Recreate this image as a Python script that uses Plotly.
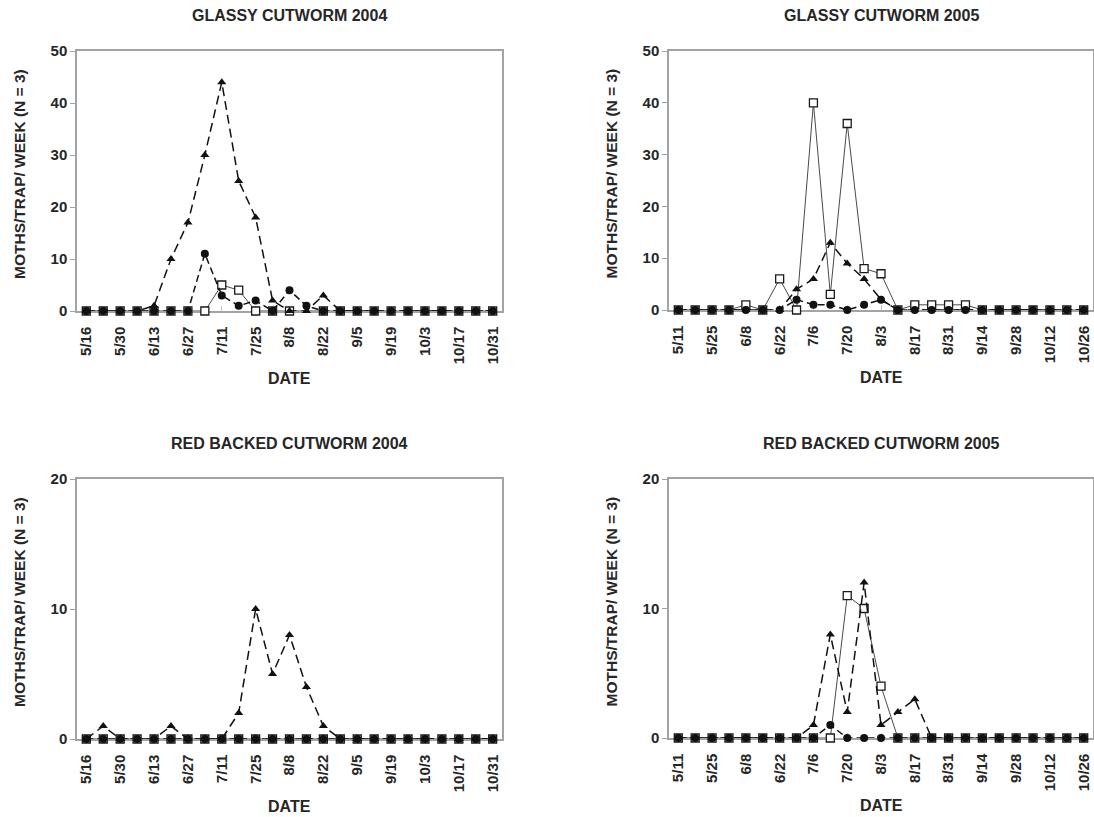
import plotly.graph_objects as go

# ---------------- data ----------------
weeks_2004 = ["5/16", "5/23", "5/30", "6/6", "6/13", "6/20", "6/27", "7/4", "7/11", "7/18",
              "7/25", "8/1", "8/8", "8/15", "8/22", "8/29", "9/5", "9/12", "9/19", "9/26",
              "10/3", "10/10", "10/17", "10/24", "10/31"]
weeks_2005 = ["5/11", "5/18", "5/25", "6/1", "6/8", "6/15", "6/22", "6/29", "7/6", "7/13",
              "7/20", "7/27", "8/3", "8/10", "8/17", "8/24", "8/31", "9/7", "9/14", "9/21",
              "9/28", "10/5", "10/12", "10/19", "10/26"]
ticks_2004 = weeks_2004[::2]
ticks_2005 = weeks_2005[::2]

# Glassy cutworm 2004
gc04_square = [0, 0, 0, 0, 0, 0, 0, 0, 5, 4, 0, 0, 0, None, 0, 0, 0, 0, 0, 0, 0, 0, 0, 0, 0]
gc04_circle = [0, 0, 0, 0, 0, 0, 0, 11, 3, 1, 2, 0, 4, 1, 0, 0, 0, 0, 0, 0, 0, 0, 0, 0, 0]
gc04_triangle = [0, 0, 0, 0, 1, 10, 17, 30, 44, 25, 18, 2, 0, 0, 3, 0, 0, 0, 0, 0, 0, 0, 0, 0, 0]

# Glassy cutworm 2005
gc05_square = [0, 0, 0, 0, 1, 0, 6, 0, 40, 3, 36, 8, 7, 0, 1, 1, 1, 1, 0, 0, 0, 0, 0, 0, 0]
gc05_circle = [0, 0, 0, 0, 0, 0, 0, 2, 1, 1, 0, 1, 2, 0, 0, 0, 0, 0, 0, 0, 0, 0, 0, 0, 0]
gc05_triangle = [0, 0, 0, 0, 0, 0, 0, 4, 6, 13, 9, 6, 2, 0, 0, 0, 0, 0, 0, 0, 0, 0, 0, 0, 0]

# Red backed cutworm 2004
rb04_square = [0, 0, 0, 0, 0, 0, 0, 0, 0, 0, 0, 0, 0, 0, 0, 0, 0, 0, 0, 0, 0, 0, 0, 0, 0]
rb04_circle = [0, 0, 0, 0, 0, 0, 0, 0, 0, 0, 0, 0, 0, 0, 0, 0, 0, 0, 0, 0, 0, 0, 0, 0, 0]
rb04_triangle = [0, 1, 0, 0, 0, 1, 0, 0, 0, 2, 10, 5, 8, 4, 1, 0, 0, 0, 0, 0, 0, 0, 0, 0, 0]

# Red backed cutworm 2005
rb05_square = [0, 0, 0, 0, 0, 0, 0, 0, 0, 0, 11, 10, 4, 0, 0, 0, 0, 0, 0, 0, 0, 0, 0, 0, 0]
rb05_circle = [0, 0, 0, 0, 0, 0, 0, 0, 0, 1, 0, 0, 0, 0, 0, 0, 0, 0, 0, 0, 0, 0, 0, 0, 0]
rb05_triangle = [0, 0, 0, 0, 0, 0, 0, 0, 1, 8, 2, 12, 1, 2, 3, 0, 0, 0, 0, 0, 0, 0, 0, 0, 0]

titles = ["GLASSY CUTWORM 2004", "GLASSY CUTWORM 2005",
          "RED BACKED CUTWORM 2004", "RED BACKED CUTWORM 2005"]
y_title = "MOTHS/TRAP/ WEEK (N = 3)"
x_title = "DATE"
y_ticks_top = [0, 10, 20, 30, 40, 50]
y_ticks_bottom = [0, 10, 20]

# ---------------- layout geometry ----------------
W, H = 1094, 817
TXT = "#262626"
FRAME = "#a3a3a3"
FONT = "Liberation Sans, Arial, sans-serif"

panels = [
    dict(x=weeks_2004, ticks=ticks_2004, sq=gc04_square, ci=gc04_circle, tr=gc04_triangle,
         px=(77, 502), py=(51, 311), yt=y_ticks_top),
    dict(x=weeks_2005, ticks=ticks_2005, sq=gc05_square, ci=gc05_circle, tr=gc05_triangle,
         px=(669, 1093), py=(51, 310), yt=y_ticks_top),
    dict(x=weeks_2004, ticks=ticks_2004, sq=rb04_square, ci=rb04_circle, tr=rb04_triangle,
         px=(77, 502), py=(479, 739), yt=y_ticks_bottom),
    dict(x=weeks_2005, ticks=ticks_2005, sq=rb05_square, ci=rb05_circle, tr=rb05_triangle,
         px=(669, 1093), py=(479, 738), yt=y_ticks_bottom),
]

fig = go.Figure()
annotations = []
for i, p in enumerate(panels):
    n = "" if i == 0 else str(i + 1)
    xa, ya = "x" + n, "y" + n
    fig.add_trace(go.Scatter(
        x=p["x"], y=p["sq"], xaxis=xa, yaxis=ya, mode="lines+markers", connectgaps=True,
        line=dict(color="#4a4a4a", width=1),
        marker=dict(symbol="square", size=8, color="white", line=dict(color="#1a1a1a", width=1.3)),
        cliponaxis=False, showlegend=False))
    fig.add_trace(go.Scatter(
        x=p["x"], y=p["ci"], xaxis=xa, yaxis=ya, mode="lines+markers",
        line=dict(color="#111111", width=1.5, dash="7px,4px"),
        marker=dict(symbol="circle", size=8, color="#111111"),
        cliponaxis=False, showlegend=False))
    fig.add_trace(go.Scatter(
        x=p["x"], y=p["tr"], xaxis=xa, yaxis=ya, mode="lines+markers",
        line=dict(color="#111111", width=1.5, dash="9px,5px"),
        marker=dict(symbol="triangle-up", size=8, color="#111111"),
        cliponaxis=False, showlegend=False))

    x0, x1 = p["px"]
    y0, y1 = p["py"]
    fig.layout["xaxis" + n] = dict(
        domain=[x0 / W, x1 / W], anchor=ya, type="category",
        categoryorder="array", categoryarray=p["x"],
        range=[-0.55, len(p["x"]) - 0.45],
        tickmode="array", tickvals=p["ticks"], ticktext=p["ticks"],
        tickangle=-90, ticks="inside", ticklen=5, tickcolor="#c4c4c4",
        ticklabelstandoff=8, ticklabeloverflow="allow",
        tickfont=dict(family=FONT, size=15, color=TXT, weight="bold"),
        showline=True, mirror=True, linecolor=FRAME, linewidth=1.5, layer="below traces",
        showgrid=False, zeroline=False, fixedrange=True, automargin=False)
    fig.layout["yaxis" + n] = dict(
        domain=[1 - y1 / H, 1 - y0 / H], anchor=xa,
        range=[0, p["yt"][-1]], tickmode="array", tickvals=p["yt"],
        ticks="outside", ticklen=5, tickcolor=FRAME,
        tickfont=dict(family=FONT, size=15, color=TXT, weight="bold"),
        showline=True, mirror=True, linecolor=FRAME, linewidth=1.5, layer="below traces",
        showgrid=False, zeroline=False, fixedrange=True, automargin=False)

    cx = (x0 + x1) / 2 / W
    annotations.append(dict(text="<b>%s</b>" % titles[i], x=cx, y=1 - (y0 - 36) / H,
                            xref="paper", yref="paper", showarrow=False,
                            xanchor="center", yanchor="middle",
                            font=dict(family=FONT, size=16, color=TXT)))
    annotations.append(dict(text="<b>%s</b>" % x_title, x=cx, y=1 - (y1 + 67) / H,
                            xref="paper", yref="paper", showarrow=False,
                            xanchor="center", yanchor="middle",
                            font=dict(family=FONT, size=16, color=TXT)))
    annotations.append(dict(text="<b>%s</b>" % y_title, x=(x0 - 58) / W,
                            y=1 - ((y0 + y1) / 2 - 7) / H,
                            xref="paper", yref="paper", showarrow=False, textangle=-90,
                            xanchor="center", yanchor="middle",
                            font=dict(family=FONT, size=15.5, color=TXT)))

fig.update_layout(
    width=W, height=H, margin=dict(l=0, r=0, t=0, b=0, pad=0),
    paper_bgcolor="white", plot_bgcolor="white",
    annotations=annotations, showlegend=False)

fig.write_html("out.html", config={"displayModeBar": False},
               post_script="document.body.style.margin='0';")
